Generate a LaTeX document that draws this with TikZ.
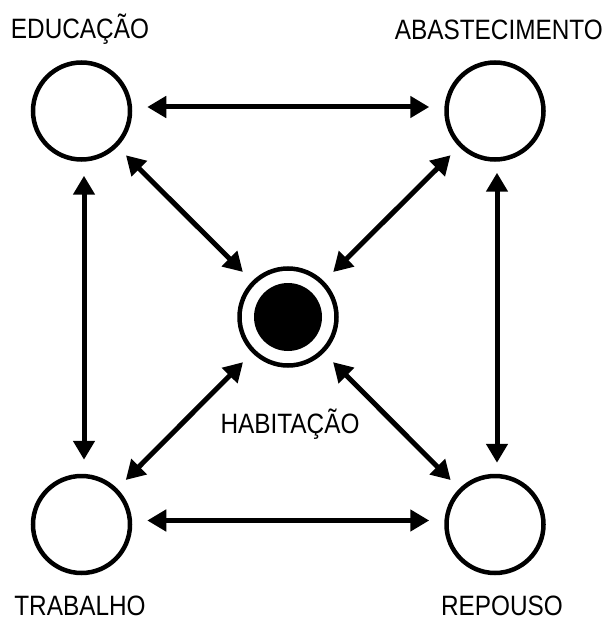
\documentclass[tikz,border=0pt]{standalone}
\usepackage{fontspec}
\setmainfont[FakeStretch=0.87]{Liberation Sans}
\usetikzlibrary{arrows.meta}
\tikzset{
  place/.style={circle, draw, line width=4.5pt, minimum size=97pt, inner sep=0pt, outer sep=2.25pt},
  lbl/.style={inner sep=0pt, font=\fontsize{28}{30}\selectfont},
  link/.style={line width=5pt, {Triangle[length=19pt,width=21pt]}-{Triangle[length=19pt,width=21pt]}},
}
\begin{document}
\begin{tikzpicture}[x=1pt,y=-1pt]
\useasboundingbox (0,0) rectangle (606,620);
% nodes
\node[place] (edu) at (81.5,111) {};
\node[place] (aba) at (495,111) {};
\node[place] (tra) at (81.5,524.5) {};
\node[place] (rep) at (495,524.5) {};
\node[place] (hab) at (288,317) {};
\fill (hab.center) circle[radius=34pt];
% labels
\node[lbl, anchor=base] (tedu) at (80,39) {EDUCAÇÃO};
\node[lbl, anchor=base east] (taba) at (603,40) {ABASTECIMENTO};
\node[lbl, anchor=base] (thab) at (290,433) {HABITAÇÃO};
\node[lbl, anchor=base] (ttra) at (80,615) {TRABALHO};
\node[lbl, anchor=base] (trep) at (502,615) {REPOUSO};
% connectors
\draw[link, shorten <=15pt, shorten >=15pt] ([yshift=4pt]edu.east) -- ([yshift=4pt]aba.west);
\draw[link, shorten <=15pt, shorten >=15pt] ([yshift=4pt]tra.east) -- ([yshift=4pt]rep.west);
\draw[link, shorten <=14pt, shorten >=14pt] ([xshift=2.5pt]edu.south) -- ([xshift=2.5pt]tra.north);
\draw[link, shorten <=11pt, shorten >=11pt] ([xshift=2pt]aba.south) -- ([xshift=2pt]rep.north);
\draw[link, shorten <=12pt, shorten >=13pt] (edu) -- (hab);
\draw[link, shorten <=12pt, shorten >=13pt] (aba) -- (hab);
\draw[link, shorten <=12pt, shorten >=13pt] (tra) -- (hab);
\draw[link, shorten <=12pt, shorten >=13pt] (rep) -- (hab);
\end{tikzpicture}
\end{document}
